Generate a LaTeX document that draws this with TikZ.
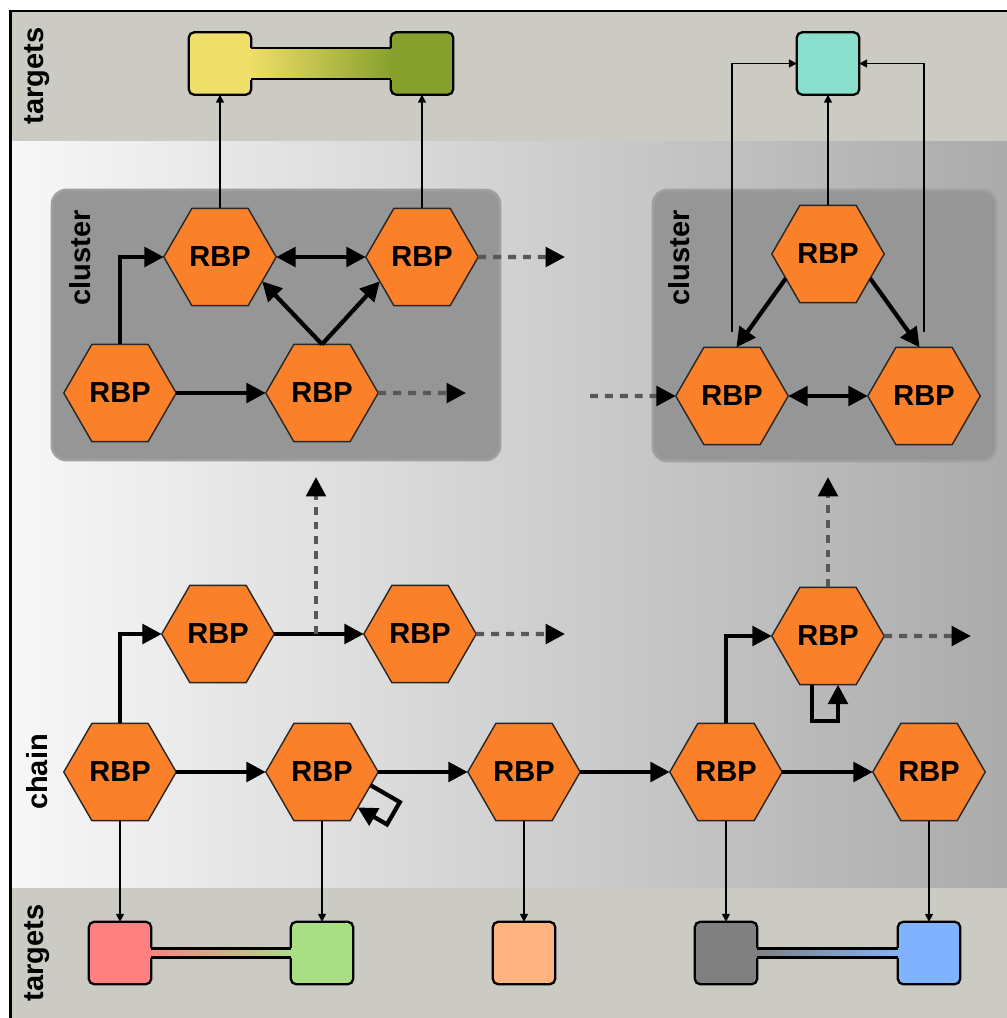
\documentclass[tikz,border=0pt]{standalone}
\usepackage{fontspec}
\setmainfont{Liberation Sans}
\usetikzlibrary{arrows.meta,shapes.geometric,calc}
\definecolor{bandc}{RGB}{203,203,195}
\definecolor{orng}{RGB}{251,128,42}
\definecolor{clus}{RGB}{150,150,150}
\definecolor{clusrim}{RGB}{160,160,160}
\definecolor{dashc}{RGB}{88,88,88}
\definecolor{yel}{RGB}{240,223,104}
\definecolor{olive}{RGB}{134,160,44}
\definecolor{tealt}{RGB}{136,223,203}
\definecolor{redt}{RGB}{255,128,128}
\definecolor{grnt}{RGB}{170,222,132}
\definecolor{orgt}{RGB}{255,179,128}
\definecolor{gryt}{RGB}{128,128,128}
\definecolor{blut}{RGB}{128,179,255}
\begin{document}
\begin{tikzpicture}[x=0.02cm,y=-0.02cm,
 hexnode/.style={regular polygon, regular polygon sides=6, minimum size=64pt, inner sep=0pt, outer sep=0pt, fill=orng, draw=black!85, line width=0.8pt, font=\fontsize{16.5}{18}\selectfont\bfseries},
 tbox/.style={rectangle, rounded corners=3pt, minimum size=35.5pt, inner sep=0pt, outer sep=0pt, draw=black, line width=1.3pt},
 lbl/.style={rotate=90, inner sep=0pt, font=\fontsize{16.5}{18}\selectfont\bfseries},
 thk/.style={line width=2.4pt, -{Triangle[length=11pt,width=11pt]}},
 dbl/.style={line width=2.4pt, {Triangle[length=11pt,width=11pt]}-{Triangle[length=11pt,width=11pt]}},
 thn/.style={line width=0.9pt, -{Triangle[length=4.5pt,width=4.5pt]}},
 dsh/.style={line width=2.4pt, dashc, dash pattern=on 4.5pt off 4pt, -{Triangle[length=11pt,width=11pt,color=black]}},
 clusbox/.style={fill=clus, draw=clusrim, line width=1.5pt, rounded corners=8pt},
 barline/.style={line width=1.3pt}
]
\useasboundingbox (0,0) rectangle (1007,1018);
% backgrounds
\fill[bandc] (12,12) rectangle (1007,141);
\shade[left color=black!3, right color=black!33] (12,141) rectangle (1007,888);
\fill[bandc] (12,888) rectangle (1007,1018);
\draw[line width=1.7pt] (10.5,1040) -- (10.5,11) -- (1040,11);
% clusters
\filldraw[clusbox] (52,190) rectangle (500,460);
\filldraw[clusbox] (653,190) rectangle (996,461);
% labels
\node[lbl] (lt1) at (37.5,76) {targets};
\node[lbl] (lt2) at (37.5,953) {targets};
\node[lbl] (lch) at (37.5,772) {chain};
\node[lbl] (lcl1) at (80,258) {cluster};
\node[lbl] (lcl2) at (679,258) {cluster};
% hexagons
\node[hexnode] (A) at (220,257) {RBP};
\node[hexnode] (B) at (422,257) {RBP};
\node[hexnode] (C) at (120,393) {RBP};
\node[hexnode] (D) at (322,393) {RBP};
\node[hexnode] (E) at (828,254) {RBP};
\node[hexnode] (F) at (732,396) {RBP};
\node[hexnode] (G) at (924,396) {RBP};
\node[hexnode] (U1) at (218,634) {RBP};
\node[hexnode] (U2) at (420,634) {RBP};
\node[hexnode] (U3) at (828,636) {RBP};
\node[hexnode] (C1) at (120,772) {RBP};
\node[hexnode] (C2) at (322,772) {RBP};
\node[hexnode] (C3) at (524,772) {RBP};
\node[hexnode] (C4) at (726,772) {RBP};
\node[hexnode] (C5) at (929,772) {RBP};
% target boxes
\node[tbox, fill=yel] (T1) at (220,63.5) {};
\node[tbox, fill=olive] (T2) at (422,63.5) {};
\node[tbox, fill=tealt] (T3) at (828,63.5) {};
\node[tbox, fill=redt] (B1) at (120,953) {};
\node[tbox, fill=grnt] (B2) at (322,953) {};
\node[tbox, fill=orgt] (B3) at (524,953) {};
\node[tbox, fill=gryt] (B4) at (726,953) {};
\node[tbox, fill=blut] (B5) at (929,953) {};
% bars
\shade[left color=yel, right color=olive] ($(T1.east)+(-2,-15.5)$) rectangle ($(T2.west)+(2,15.5)$);
\draw[barline] ($(T1.east)+(0,-15.5)$) -- ($(T2.west)+(0,-15.5)$) ($(T1.east)+(0,15.5)$) -- ($(T2.west)+(0,15.5)$);
\shade[left color=redt, right color=grnt] ($(B1.east)+(-2,-4.5)$) rectangle ($(B2.west)+(2,4.5)$);
\draw[barline] ($(B1.east)+(0,-4.5)$) -- ($(B2.west)+(0,-4.5)$) ($(B1.east)+(0,4.5)$) -- ($(B2.west)+(0,4.5)$);
\shade[left color=gryt, right color=blut] ($(B4.east)+(-2,-4.5)$) rectangle ($(B5.west)+(2,4.5)$);
\draw[barline] ($(B4.east)+(0,-4.5)$) -- ($(B5.west)+(0,-4.5)$) ($(B4.east)+(0,4.5)$) -- ($(B5.west)+(0,4.5)$);
% thin connectors to targets
\draw[thn] (A.north) -- (T1.south);
\draw[thn] (B.north) -- (T2.south);
\draw[thn] (E.north) -- (T3.south);
\draw[thn] ($(F.north)+(0,-15)$) |- (T3.west);
\draw[thn] ($(G.north)+(0,-15)$) |- (T3.east);
\draw[thn] (C1.south) -- (B1.north);
\draw[thn] (C2.south) -- (B2.north);
\draw[thn] (C3.south) -- (B3.north);
\draw[thn] (C4.south) -- (B4.north);
\draw[thn] (C5.south) -- (B5.north);
% thick connectors
\draw[thk] (C1.east) -- (C2.west);
\draw[thk] (C2.east) -- (C3.west);
\draw[thk] (C3.east) -- (C4.west);
\draw[thk] (C4.east) -- (C5.west);
\draw[thk] (C1.north) |- (U1.west);
\draw[thk] (U1.east) -- (U2.west);
\draw[thk] (C4.north) |- (U3.west);
\draw[thk] (C.north) |- (A.west);
\draw[thk] (C.east) -- (D.west);
\draw[thk] (D.north) -- (A.-30);
\draw[thk] (D.north) -- (B.210);
\draw[dbl] (A.east) -- (B.west);
\draw[thk] (E.210) -- ([xshift=2.5pt]F.north);
\draw[thk] (E.-30) -- ([xshift=-2.5pt]G.north);
\draw[dbl] (F.east) -- (G.west);
% self loops
\draw[thk] ($(C2)+(48.4,13.1)$) -- ($(C2)+(77.8,30.1)$) -- ($(C2)+(65,52.4)$) -- ($(C2)+(35.6,35.4)$);
\draw[thk] ($(U3.south)+(-16,0)$) -- ++(0,36) -| ($(U3.south)+(10,0)$);
% dashed
\coordinate (dB) at (565,257);
\coordinate (dD) at (466,393);
\coordinate (dU2) at (565,634);
\coordinate (dU3) at (971,636);
\coordinate (dF) at (590,396);
\coordinate (mU) at (316,634);
\coordinate (dUp1) at (316,477);
\coordinate (dUp3) at (828,477);
\draw[dsh] (B.east) -- (dB);
\draw[dsh] (D.east) -- (dD);
\draw[dsh] (U2.east) -- (dU2);
\draw[dsh] (U3.east) -- (dU3);
\draw[dsh] (dF) -- (F.west);
\draw[dsh] (mU) -- (dUp1);
\draw[dsh] (U3.north) -- (dUp3);
\end{tikzpicture}
\end{document}
